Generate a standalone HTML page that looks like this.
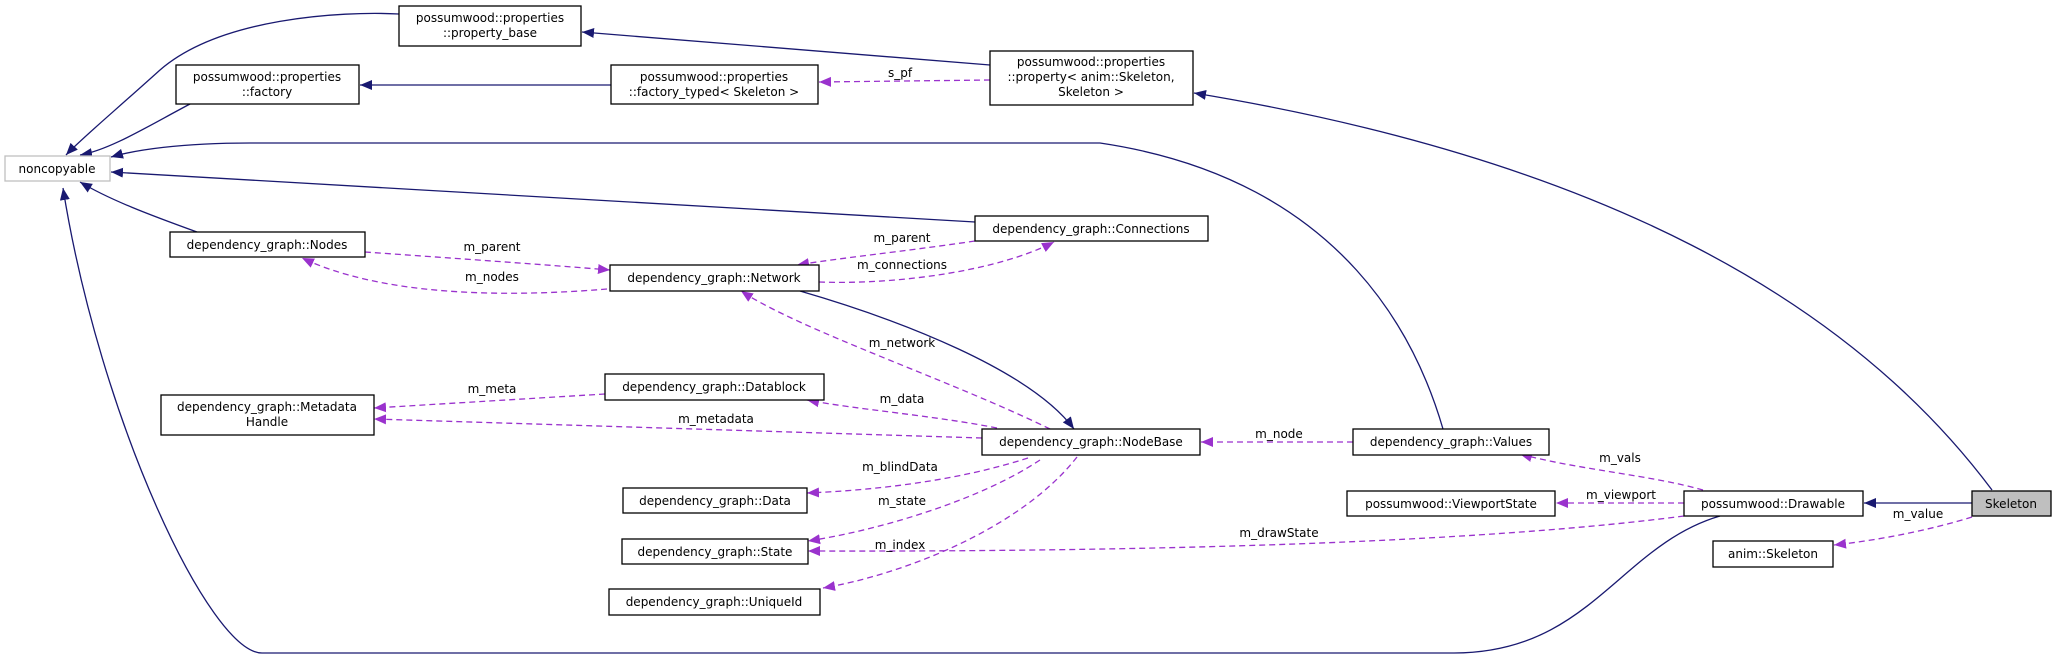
<!DOCTYPE html>
<html><head><meta charset="utf-8"><style>
html,body{margin:0;padding:0;background:#fff;}
svg{display:block;}
text{font-family:"DejaVu Sans","Liberation Sans",sans-serif;font-size:12px;fill:#000;}
</style></head><body>
<svg width="2056" height="658" viewBox="0 0 2056 658" xmlns="http://www.w3.org/2000/svg">
<defs>
<marker id="b" markerUnits="userSpaceOnUse" markerWidth="14" markerHeight="12" refX="12" refY="6" orient="auto"><path d="M0,1 L12,6 L0,11 Z" fill="#191970"/></marker>
<marker id="p" markerUnits="userSpaceOnUse" markerWidth="14" markerHeight="12" refX="12" refY="6" orient="auto"><path d="M0,1 L12,6 L0,11 Z" fill="#9a32cd"/></marker>
</defs>
<g fill="none" stroke="#191970" stroke-width="1.3" marker-end="url(#b)">
<path d="M399,14 C340,11 220,18 160,70 C110,115 80,140 66,155"/>
<path d="M190,104 C150,125 110,150 80,155"/>
<path d="M990,65 L582,32"/>
<path d="M611,85 L360,85"/>
<path d="M1992,490 C1850,300 1600,160 1194,93"/>
<path d="M1443,429 C1420,350 1350,180 1100,143 L250,143 C180,143 135,150 111,157"/>
<path d="M975,222 L111,172"/>
<path d="M197,232 C150,215 110,200 80,182"/>
<path d="M1720,516 C1620,545 1590,653 1454,653 L262,653 C210,653 100,420 63,188"/>
<path d="M800,291 C900,320 1030,370 1074,429"/>
<path d="M1972,503 L1864,503"/>
</g>
<g fill="none" stroke="#9a32cd" stroke-width="1.3" stroke-dasharray="6,4" marker-end="url(#p)">
<path d="M990,80 L819,82"/>
<path d="M365,252 C450,258 550,265 610,270"/>
<path d="M607,289 C500,298 380,295 302,258"/>
<path d="M975,241 C900,252 840,258 797,265"/>
<path d="M819,282 C900,285 1000,270 1054,242"/>
<path d="M1050,429 C950,380 800,330 741,291"/>
<path d="M605,394 L374,408"/>
<path d="M982,438 L374,419"/>
<path d="M997,428 C930,415 860,410 807,400"/>
<path d="M1028,458 C960,480 880,490 807,493"/>
<path d="M1040,460 C980,500 880,530 808,541"/>
<path d="M1684,516 C1500,540 1200,552 808,551"/>
<path d="M1077,457 C1020,530 900,575 823,588"/>
<path d="M1353,442 L1201,442"/>
<path d="M1703,490 C1650,475 1580,470 1520,454"/>
<path d="M1684,503 L1556,503"/>
<path d="M1972,517 C1930,530 1880,540 1834,545"/>
</g>
<g fill="#fff" stroke="#000" stroke-width="1.3">
<rect x="399" y="6" width="182" height="40"/>
<rect x="176" y="65" width="183" height="39"/>
<rect x="611" y="65" width="207" height="39"/>
<rect x="990" y="51" width="203" height="54"/>
<rect x="975" y="216" width="233" height="25"/>
<rect x="170" y="232" width="195" height="25"/>
<rect x="610" y="265" width="209" height="26"/>
<rect x="161" y="395" width="213" height="40"/>
<rect x="605" y="374" width="219" height="26"/>
<rect x="982" y="429" width="218" height="26"/>
<rect x="1353" y="429" width="196" height="26"/>
<rect x="623" y="488" width="184" height="25"/>
<rect x="622" y="539" width="186" height="25"/>
<rect x="609" y="589" width="211" height="26"/>
<rect x="1347" y="491" width="208" height="25"/>
<rect x="1684" y="491" width="179" height="25"/>
<rect x="1713" y="541" width="120" height="26"/>
</g>
<rect x="5" y="156" width="105" height="25" fill="#fff" stroke="#bfbfbf" stroke-width="1.3"/>
<rect x="1972" y="491" width="79" height="25" fill="#bfbfbf" stroke="#000" stroke-width="1.3"/>
<g text-anchor="middle">
<text x="490" y="22">possumwood::properties</text>
<text x="490" y="37">::property_base</text>
<text x="267" y="81">possumwood::properties</text>
<text x="267" y="96">::factory</text>
<text x="714" y="81">possumwood::properties</text>
<text x="714" y="96">::factory_typed&lt; Skeleton &gt;</text>
<text x="1091" y="66">possumwood::properties</text>
<text x="1091" y="81">::property&lt; anim::Skeleton,</text>
<text x="1091" y="96">Skeleton &gt;</text>
<text x="57" y="173">noncopyable</text>
<text x="1091" y="233">dependency_graph::Connections</text>
<text x="267" y="249">dependency_graph::Nodes</text>
<text x="714" y="282">dependency_graph::Network</text>
<text x="267" y="411">dependency_graph::Metadata</text>
<text x="267" y="426">Handle</text>
<text x="714" y="391">dependency_graph::Datablock</text>
<text x="1091" y="446">dependency_graph::NodeBase</text>
<text x="1451" y="446">dependency_graph::Values</text>
<text x="715" y="505">dependency_graph::Data</text>
<text x="715" y="556">dependency_graph::State</text>
<text x="714" y="606">dependency_graph::UniqueId</text>
<text x="1451" y="508">possumwood::ViewportState</text>
<text x="1773" y="508">possumwood::Drawable</text>
<text x="2011" y="508">Skeleton</text>
<text x="1773" y="558">anim::Skeleton</text>
<text x="900" y="77">s_pf</text>
<text x="492" y="251">m_parent</text>
<text x="492" y="281">m_nodes</text>
<text x="902" y="242">m_parent</text>
<text x="902" y="269">m_connections</text>
<text x="902" y="347">m_network</text>
<text x="492" y="393">m_meta</text>
<text x="716" y="423">m_metadata</text>
<text x="902" y="403">m_data</text>
<text x="900" y="471">m_blindData</text>
<text x="902" y="505">m_state</text>
<text x="900" y="549">m_index</text>
<text x="1279" y="438">m_node</text>
<text x="1620" y="462">m_vals</text>
<text x="1621" y="499">m_viewport</text>
<text x="1279" y="537">m_drawState</text>
<text x="1918" y="518">m_value</text>
</g>
</svg>
</body></html>
